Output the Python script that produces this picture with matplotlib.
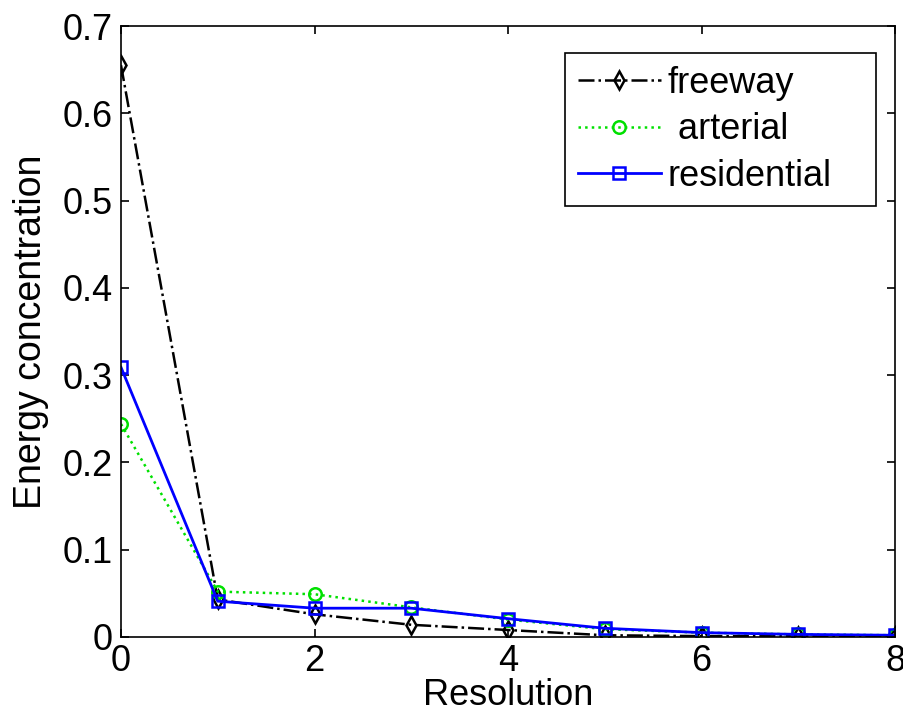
import matplotlib
matplotlib.use("Agg")
import matplotlib.pyplot as plt

resolution = [0, 1, 2, 3, 4, 5, 6, 7, 8]
freeway = [0.655, 0.043, 0.026, 0.014, 0.008, 0.002, 0.001, 0.001, 0.001]
arterial = [0.244, 0.052, 0.049, 0.034, 0.020, 0.009, 0.005, 0.003, 0.002]
residential = [0.309, 0.041, 0.033, 0.033, 0.021, 0.010, 0.005, 0.003, 0.002]

plt.rcParams['font.family'] = ['Liberation Sans', 'DejaVu Sans']

W, H = 904, 711
fig = plt.figure(figsize=(W / 100, H / 100), dpi=100)
ax = fig.add_axes([121 / W, 1 - 637 / H, (895 - 121) / W, (637 - 26) / H])

ax.plot(resolution, freeway, color='black', linestyle='-.', marker='d',
        markerfacecolor='none', markeredgewidth=1.8, markersize=9,
        linewidth=1.8, label='freeway')
ax.plot(resolution, arterial, color='#00e000', linestyle=':', marker='o',
        markerfacecolor='none', markeredgewidth=1.8, markersize=9,
        linewidth=1.8, label=' arterial')
ax.plot(resolution, residential, color='#0000ff', linestyle='-', marker='s',
        markerfacecolor='none', markeredgewidth=1.8, markersize=9,
        linewidth=2.0, label='residential')

ax.set_xlim(0, 8)
ax.set_ylim(0, 0.7)
ax.set_xticks([0, 2, 4, 6, 8])
ax.set_yticks([0, 0.1, 0.2, 0.3, 0.4, 0.5, 0.6, 0.7])
ax.set_yticklabels(['0', '0.1', '0.2', '0.3', '0.4', '0.5', '0.6', '0.7'])
ax.tick_params(direction='in', top=True, right=True, labelsize=26, length=6,
               width=1.2)
ax.tick_params(axis='x', pad=5)
ax.tick_params(axis='y', pad=6)
ax.set_xlabel('Resolution', fontsize=26, labelpad=-1)
ax.set_ylabel('Energy concentration', fontsize=27, labelpad=10)
for s in ax.spines.values():
    s.set_linewidth(1.2)

leg = ax.legend(loc='upper left',
                bbox_to_anchor=(565 / W, 1 - 206 / H, 311 / W, 153 / H),
                bbox_transform=fig.transFigure, borderaxespad=0, mode='expand',
                fontsize=26, fancybox=False, framealpha=1,
                edgecolor='black', handlelength=2.3, borderpad=0.35,
                handletextpad=0.2, labelspacing=0.32)
leg.get_frame().set_linewidth(1.2)

fig.savefig('out.png', dpi=100)
